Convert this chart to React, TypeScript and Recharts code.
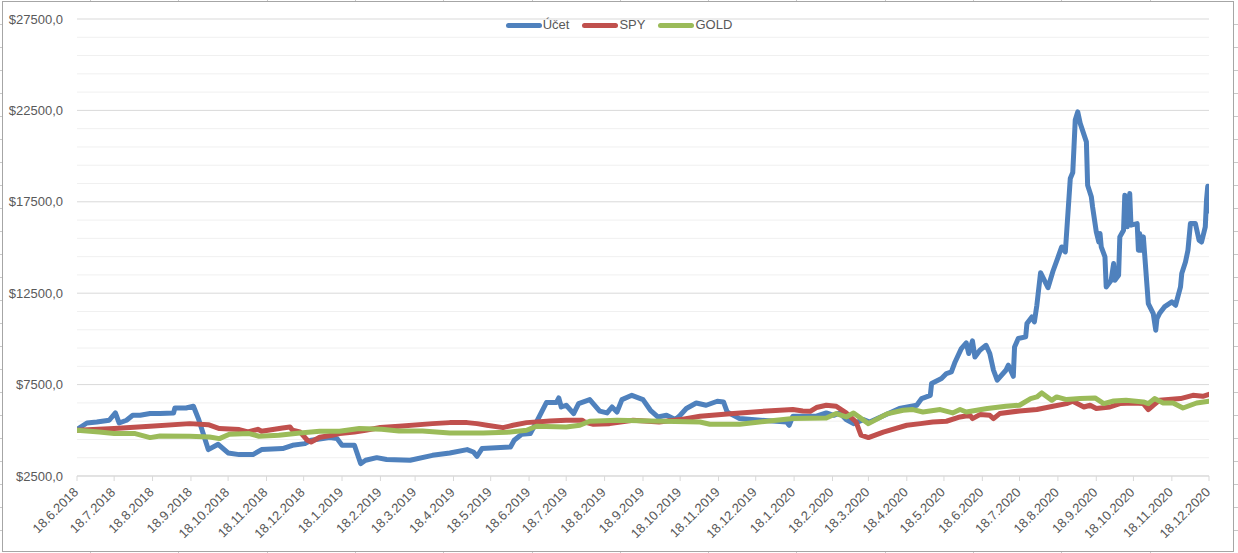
import React from 'react';
import { LineChart, Line, XAxis, YAxis, CartesianGrid, Legend } from 'recharts';

// ---------- DATA ----------
const seriesNames = ['Účet', 'SPY', 'GOLD'];
const seriesColors = ['#4F81BD', '#C0504D', '#9BBB59'];

const xTickLabels = [
  '18.6.2018', '18.7.2018', '18.8.2018', '18.9.2018', '18.10.2018', '18.11.2018', '18.12.2018',
  '18.1.2019', '18.2.2019', '18.3.2019', '18.4.2019', '18.5.2019', '18.6.2019', '18.7.2019',
  '18.8.2019', '18.9.2019', '18.10.2019', '18.11.2019', '18.12.2019', '18.1.2020', '18.2.2020',
  '18.3.2020', '18.4.2020', '18.5.2020', '18.6.2020', '18.7.2020', '18.8.2020', '18.9.2020',
  '18.10.2020', '18.11.2020', '18.12.2020',
];

const yTicks = [2500, 7500, 12500, 17500, 22500, 27500];

const ucetDates = [
  '2018-06-18', '2018-06-26', '2018-07-04', '2018-07-14', '2018-07-19', '2018-07-22', '2018-07-28',
  '2018-08-02', '2018-08-08', '2018-08-16', '2018-08-24', '2018-09-04', '2018-09-05', '2018-09-14',
  '2018-09-20', '2018-09-24', '2018-10-02', '2018-10-10', '2018-10-18', '2018-10-27', '2018-11-07',
  '2018-11-14', '2018-12-01', '2018-12-09', '2018-12-19', '2018-12-24', '2019-01-08', '2019-01-14',
  '2019-01-18', '2019-01-28', '2019-02-02', '2019-02-06', '2019-02-15', '2019-02-23', '2019-03-14',
  '2019-04-01', '2019-04-15', '2019-04-29', '2019-05-04', '2019-05-07', '2019-05-11', '2019-06-03',
  '2019-06-06', '2019-06-12', '2019-06-19', '2019-06-24', '2019-07-02', '2019-07-10', '2019-07-12',
  '2019-07-14', '2019-07-18', '2019-07-24', '2019-07-28', '2019-08-06', '2019-08-14', '2019-08-20',
  '2019-08-24', '2019-08-28', '2019-09-01', '2019-09-09', '2019-09-18', '2019-09-24', '2019-09-30',
  '2019-10-07', '2019-10-14', '2019-10-18', '2019-10-23', '2019-10-31', '2019-11-08', '2019-11-17',
  '2019-11-22', '2019-11-25', '2019-12-05', '2019-12-22', '2020-01-12', '2020-01-14', '2020-01-17',
  '2020-02-05', '2020-02-13', '2020-02-19', '2020-02-24', '2020-02-29', '2020-03-06', '2020-03-14',
  '2020-03-19', '2020-03-27', '2020-04-12', '2020-04-26', '2020-04-30', '2020-05-07', '2020-05-08',
  '2020-05-16', '2020-05-20', '2020-05-24', '2020-05-27', '2020-06-01', '2020-06-05', '2020-06-07',
  '2020-06-10', '2020-06-12', '2020-06-16', '2020-06-21', '2020-06-24', '2020-06-27', '2020-06-30',
  '2020-07-07', '2020-07-09', '2020-07-13', '2020-07-14', '2020-07-17', '2020-07-23', '2020-07-24',
  '2020-07-28', '2020-07-30', '2020-08-01', '2020-08-04', '2020-08-10', '2020-08-14', '2020-08-18',
  '2020-08-21', '2020-08-24', '2020-08-28', '2020-08-30', '2020-08-31', '2020-09-01', '2020-09-03',
  '2020-09-05', '2020-09-10', '2020-09-11', '2020-09-14', '2020-09-15', '2020-09-18', '2020-09-20',
  '2020-09-21', '2020-09-22', '2020-09-25', '2020-09-26', '2020-09-30', '2020-10-02', '2020-10-03',
  '2020-10-06', '2020-10-07', '2020-10-10', '2020-10-11', '2020-10-12', '2020-10-13', '2020-10-15',
  '2020-10-16', '2020-10-21', '2020-10-22', '2020-10-23', '2020-10-24', '2020-10-26', '2020-10-29',
  '2020-10-30', '2020-11-03', '2020-11-05', '2020-11-06', '2020-11-08', '2020-11-12', '2020-11-18',
  '2020-11-21', '2020-11-25', '2020-11-26', '2020-11-29', '2020-12-01', '2020-12-03', '2020-12-07',
  '2020-12-10', '2020-12-12', '2020-12-15', '2020-12-16', '2020-12-17', '2020-12-18',
];
const ucetValues = [
  5050, 5400, 5455, 5550, 5950, 5400, 5550,
  5820, 5820, 5915, 5915, 5950, 6220, 6220,
  6315, 5640, 3945, 4235, 3760, 3670, 3670,
  3945, 4000, 4180, 4270, 4455, 4600, 4545,
  4180, 4180, 3180, 3360, 3505, 3400, 3360,
  3630, 3760, 3945, 3815, 3580, 4000, 4090,
  4455, 4780, 4820, 5455, 6515, 6515, 6770,
  6275, 6370, 5915, 6460, 6680, 6050, 5950,
  6275, 6000, 6680, 6915, 6680, 6095, 5730,
  5820, 5585, 5820, 6190, 6495, 6370, 6590,
  6550, 6000, 5640, 5550, 5455, 5275, 5770,
  5770, 5950, 5820, 5950, 5585, 5365, 5585,
  5455, 5700, 6190, 6370, 6735, 6915, 7555,
  7830, 8105, 8190, 8740, 9470, 9780, 9200,
  9890, 9010, 9380, 9650, 9200, 8285, 7740,
  8285, 8560, 7955, 9560, 10020, 10110, 10840,
  11200, 10930, 11840, 13620, 12800, 13700, 14450,
  15030, 14760, 18775, 19100, 20500, 21970, 22420,
  21790, 20780, 18410, 17770, 17220, 15850, 15300,
  15770, 15030, 14490, 12845, 13210, 14120, 13210,
  13485, 15580, 15945, 17860, 17590, 16130, 17950,
  16220, 16310, 14850, 15770, 14850, 15580, 12845,
  11930, 11385, 10475, 11110, 11385, 11750, 12025,
  11840, 12845, 13580, 14210, 14850, 16310, 16310,
  15400, 15300, 16130, 17600, 18350, 17000,
];

const spyDates = [
  '2018-06-18', '2018-07-18', '2018-08-16', '2018-09-17', '2018-10-02', '2018-10-11', '2018-10-27',
  '2018-11-03', '2018-11-11', '2018-11-14', '2018-12-01', '2018-12-07', '2018-12-09', '2018-12-15',
  '2018-12-21', '2018-12-24', '2018-12-31', '2019-01-10', '2019-01-16', '2019-01-28', '2019-02-06',
  '2019-02-18', '2019-03-05', '2019-04-01', '2019-04-15', '2019-04-29', '2019-05-07', '2019-05-15',
  '2019-05-28', '2019-06-05', '2019-06-16', '2019-07-05', '2019-07-18', '2019-07-31', '2019-08-02',
  '2019-08-09', '2019-08-22', '2019-09-10', '2019-10-01', '2019-10-18', '2019-11-03', '2019-11-30',
  '2019-12-27', '2020-01-17', '2020-01-25', '2020-01-31', '2020-02-05', '2020-02-13', '2020-02-21',
  '2020-02-29', '2020-03-08', '2020-03-12', '2020-03-18', '2020-03-30', '2020-04-18', '2020-04-29',
  '2020-05-09', '2020-05-20', '2020-05-31', '2020-06-08', '2020-06-10', '2020-06-16', '2020-06-24',
  '2020-06-27', '2020-07-02', '2020-07-18', '2020-08-01', '2020-08-14', '2020-08-25', '2020-08-30',
  '2020-09-08', '2020-09-13', '2020-09-18', '2020-09-29', '2020-10-07', '2020-10-18', '2020-10-26',
  '2020-10-30', '2020-11-03', '2020-11-08', '2020-11-25', '2020-12-05', '2020-12-13', '2020-12-18',
];
const spyValues = [
  5000, 5095, 5220, 5365, 5310, 5095, 5040,
  4910, 5055, 4945, 5125, 5180, 5000, 4910,
  4455, 4360, 4620, 4730, 4820, 4910, 5000,
  5150, 5220, 5365, 5420, 5420, 5365, 5275,
  5145, 5275, 5420, 5510, 5550, 5550, 5455,
  5330, 5365, 5550, 5455, 5585, 5770, 5915,
  6060, 6135, 6060, 6040, 6245, 6370, 6315,
  5950, 5455, 4730, 4600, 4900, 5275, 5365,
  5455, 5495, 5730, 5820, 5640, 5860, 5820,
  5640, 5915, 6060, 6135, 6315, 6460, 6590,
  6275, 6370, 6190, 6275, 6460, 6495, 6460,
  6135, 6370, 6640, 6735, 6915, 6860, 6970,
];

const goldDates = [
  '2018-06-18', '2018-07-06', '2018-07-18', '2018-08-04', '2018-08-16', '2018-08-24', '2018-09-17',
  '2018-10-03', '2018-10-11', '2018-10-19', '2018-11-04', '2018-11-12', '2018-11-28', '2018-12-15',
  '2018-12-31', '2019-01-16', '2019-02-01', '2019-02-19', '2019-03-05', '2019-03-24', '2019-04-15',
  '2019-05-12', '2019-05-31', '2019-06-16', '2019-06-24', '2019-07-18', '2019-07-29', '2019-08-06',
  '2019-08-28', '2019-09-24', '2019-11-03', '2019-11-11', '2019-12-05', '2019-12-27', '2020-01-17',
  '2020-02-13', '2020-02-21', '2020-02-29', '2020-03-06', '2020-03-18', '2020-04-02', '2020-04-15',
  '2020-04-23', '2020-05-01', '2020-05-15', '2020-05-25', '2020-05-31', '2020-06-05', '2020-06-22',
  '2020-07-07', '2020-07-18', '2020-07-27', '2020-08-01', '2020-08-05', '2020-08-13', '2020-08-17',
  '2020-08-25', '2020-09-05', '2020-09-17', '2020-09-24', '2020-10-02', '2020-10-12', '2020-10-26',
  '2020-10-30', '2020-11-04', '2020-11-11', '2020-11-19', '2020-11-27', '2020-12-08', '2020-12-18',
];
const goldValues = [
  5000, 4910, 4820, 4820, 4600, 4690, 4675,
  4635, 4545, 4780, 4820, 4675, 4730, 4855,
  4945, 4945, 5095, 5060, 4960, 4965, 4855,
  4855, 4890, 5000, 5220, 5180, 5275, 5495,
  5550, 5510, 5455, 5330, 5330, 5495, 5640,
  5675, 5915, 5730, 5950, 5365, 5900, 6095,
  6135, 6000, 6135, 5950, 6135, 6000, 6190,
  6315, 6370, 6735, 6825, 7045, 6640, 6825,
  6680, 6735, 6770, 6460, 6605, 6640, 6550,
  6460, 6735, 6495, 6495, 6220, 6495, 6590,
];

// ---------- HELPERS ----------
const FONT = '"Liberation Sans", Arial, sans-serif';
const toTs = (s: string) => {
  const [y, m, d] = s.split('-').map(Number);
  return Date.UTC(y, m - 1, d);
};
const labelToTs = (s: string) => {
  const [d, m, y] = s.split('.').map(Number);
  return Date.UTC(y, m - 1, d);
};
const fmtDate = (t: number) => {
  const dt = new Date(t);
  return `${dt.getUTCDate()}.${dt.getUTCMonth() + 1}.${dt.getUTCFullYear()}`;
};
const zip = (dates: string[], values: number[]) =>
  dates.map((d, i) => ({ t: toTs(d), v: values[i] }));

const seriesData = [zip(ucetDates, ucetValues), zip(spyDates, spyValues), zip(goldDates, goldValues)];
const xTicks = xTickLabels.map(labelToTs);
const xDomain = [xTicks[0], xTicks[xTicks.length - 1]];

const minorTicks: number[] = [];
for (let v = yTicks[0]; v <= yTicks[yTicks.length - 1]; v += 1000) {
  if (!yTicks.includes(v)) minorTicks.push(v);
}

const XTick = (props: any) => {
  const { x, y, payload } = props;
  const ax = x + 2;
  const ay = y + 12;
  return (
    <text
      x={ax}
      y={ay}
      transform={`rotate(-45, ${ax}, ${ay})`}
      textAnchor="end"
      fill="#595959"
      fontSize={13}
      fontFamily={FONT}
    >
      {fmtDate(payload.value)}
    </text>
  );
};

const LegendContent = () => (
  <div
    style={{
      display: 'flex',
      justifyContent: 'center',
      alignItems: 'center',
      fontFamily: FONT,
      fontSize: 13,
      color: '#595959',
      lineHeight: '16px',
    }}
  >
    {seriesNames.map((n, i) => (
      <div key={n} style={{ display: 'flex', alignItems: 'center', marginRight: i < seriesNames.length - 1 ? 13 : 0 }}>
        <span
          style={{
            display: 'inline-block',
            width: 36,
            height: 5,
            borderRadius: 3,
            background: seriesColors[i],
            marginRight: 1,
          }}
        />
        <span>{n}</span>
      </div>
    ))}
  </div>
);

// spreadsheet cell grid marks around the chart frame (decoration)
const colMarks: number[] = [];
for (let x = 90; x < 1238; x += 88.3) colMarks.push(Math.round(x));
const rowMarks: number[] = [];
for (let y = 24; y < 553; y += 23) rowMarks.push(Math.round(y));

export default function App() {
  return (
    <div style={{ position: 'absolute', left: 0, top: 0, width: 1238, height: 553, background: '#fff', overflow: 'hidden' }}>
      {colMarks.map((x) => (
        <React.Fragment key={'c' + x}>
          <div style={{ position: 'absolute', left: x, top: 0, width: 1, height: 1, background: '#c8c8c8' }} />
          <div style={{ position: 'absolute', left: x, top: 552, width: 1, height: 1, background: '#c8c8c8' }} />
        </React.Fragment>
      ))}
      {rowMarks.map((y) => (
        <React.Fragment key={'r' + y}>
          <div style={{ position: 'absolute', left: 0, top: y, width: 2, height: 1, background: '#c8c8c8' }} />
          <div style={{ position: 'absolute', left: 1234, top: y, width: 4, height: 1, background: '#c8c8c8' }} />
        </React.Fragment>
      ))}
      <div
        style={{
          position: 'absolute',
          left: 2,
          top: 1,
          width: 1232,
          height: 551,
          boxSizing: 'border-box',
          border: '1px solid #a6a6a6',
        }}
      />
      <div style={{ position: 'absolute', left: 0, top: 0 }}>
        <LineChart width={1238} height={553} margin={{ top: 19, right: 29, bottom: 0, left: 0 }}>
          <CartesianGrid vertical={false} horizontalValues={minorTicks} stroke="#f0f0f0" strokeWidth={1} />
          <CartesianGrid vertical={false} horizontalValues={yTicks} stroke="#d9d9d9" strokeWidth={1} />
          <XAxis
            type="number"
            dataKey="t"
            domain={xDomain}
            ticks={xTicks}
            interval={0}
            allowDataOverflow
            height={77}
            tickSize={5}
            tickMargin={0}
            axisLine={{ stroke: '#d9d9d9' }}
            tickLine={{ stroke: '#d9d9d9' }}
            tick={<XTick />}
          />
          <YAxis
            type="number"
            domain={[yTicks[0], yTicks[yTicks.length - 1]]}
            ticks={yTicks}
            interval={0}
            width={77}
            axisLine={false}
            tickLine={false}
            tickSize={0}
            tickMargin={14}
            tickFormatter={(v: number) => `$${v},0`}
            tick={{ fill: '#595959', fontSize: 13, fontFamily: FONT }}
          />
          <Legend
            verticalAlign="middle"
            align="center"
            layout="horizontal"
            wrapperStyle={{ top: 17, left: 0, width: 1238 }}
            content={<LegendContent />}
          />
          {seriesNames.map((n, i) => (
            <Line
              key={n}
              data={seriesData[i]}
              dataKey="v"
              name={n}
              type="linear"
              stroke={seriesColors[i]}
              strokeWidth={5}
              strokeLinejoin="round"
              strokeLinecap="round"
              dot={false}
              activeDot={false}
              isAnimationActive={false}
            />
          ))}
        </LineChart>
      </div>
    </div>
  );
}
